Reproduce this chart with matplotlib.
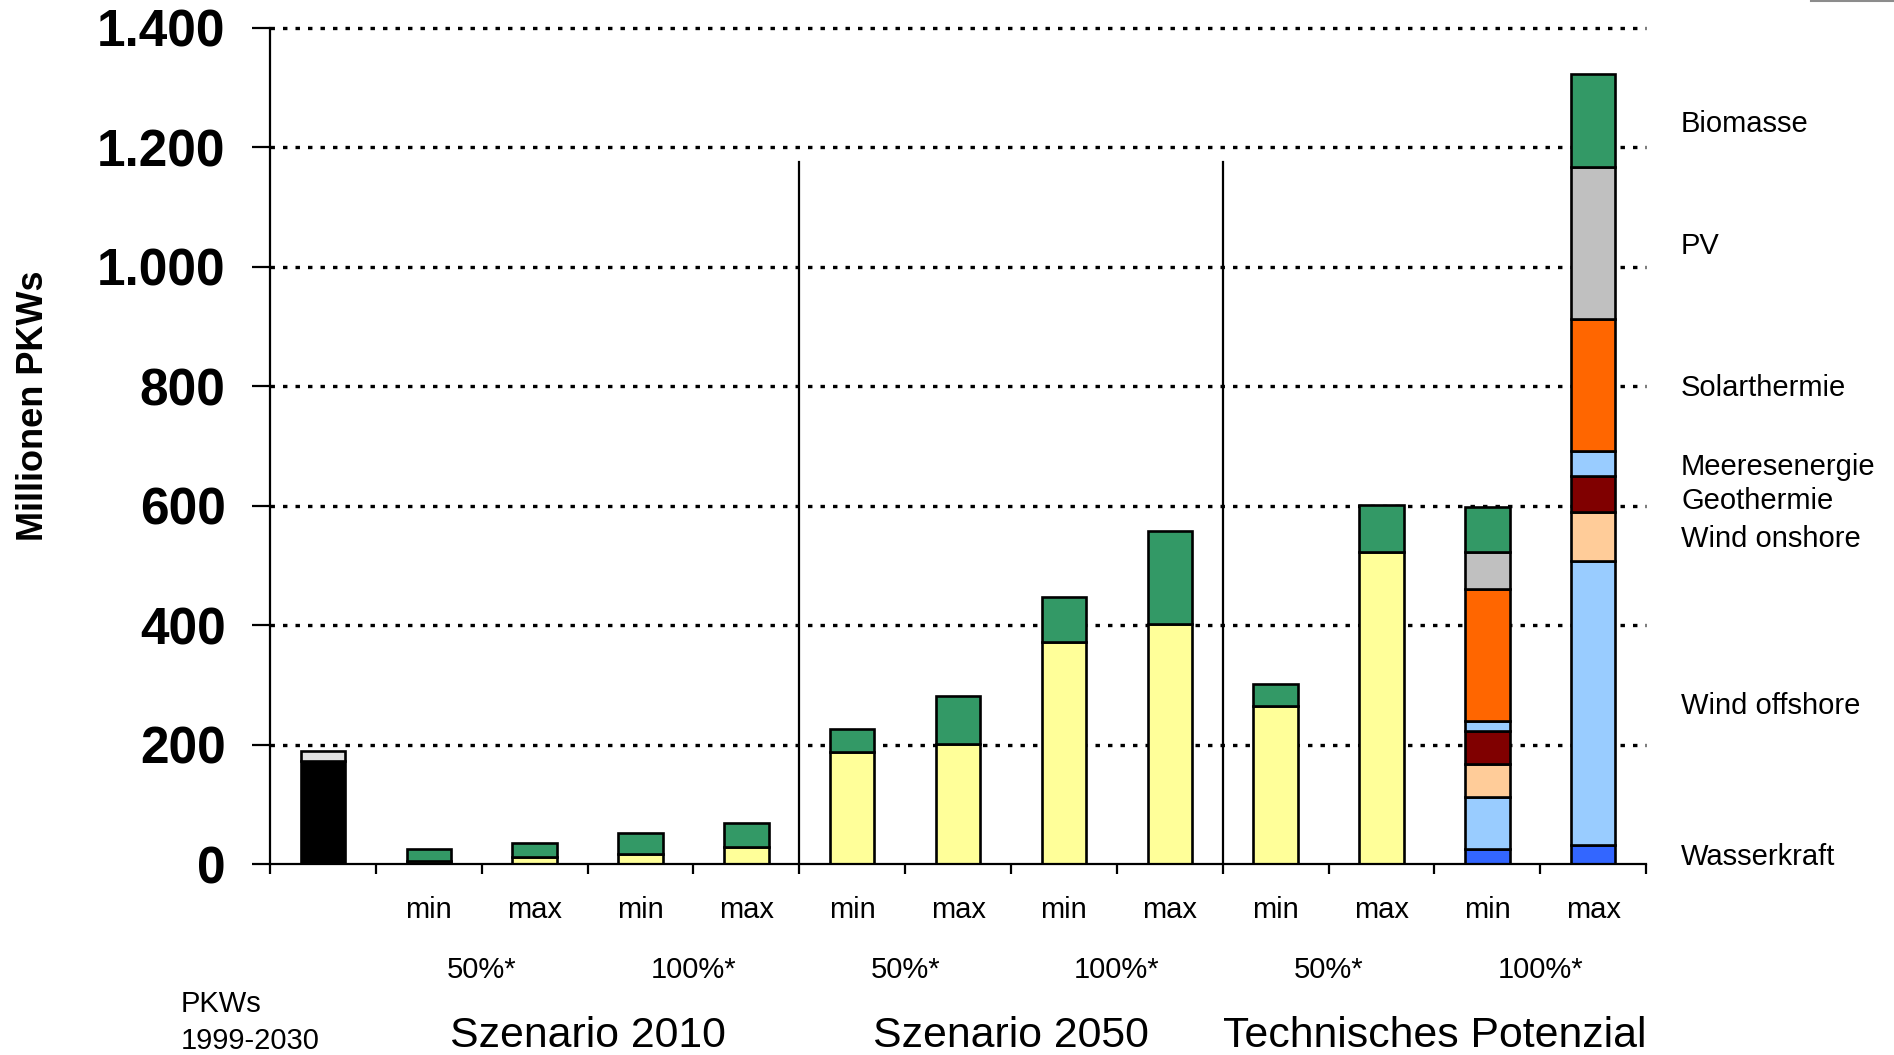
import numpy as np
import matplotlib
matplotlib.use("Agg")
import matplotlib.pyplot as plt
from matplotlib.lines import Line2D
from matplotlib.ticker import FuncFormatter

plt.rcParams["font.family"] = ["Liberation Sans", "DejaVu Sans"]
plt.rcParams["lines.scale_dashes"] = False

# ---- data (million cars) ----
bar_labels = ["", "min", "max", "min", "max", "min", "max", "min", "max",
              "min", "max", "min", "max"]
share_labels = ["50%*", "100%*", "50%*", "100%*", "50%*", "100%*"]
group_labels = ["Szenario 2010", "Szenario 2050", "Technisches Potenzial"]

pkw_1999 = [172, 0, 0, 0, 0, 0, 0, 0, 0, 0, 0, 0, 0]
pkw_2030 = [18, 0, 0, 0, 0, 0, 0, 0, 0, 0, 0, 0, 0]
strom_mix = [0, 5, 12, 16, 28, 187, 201, 372, 402, 264, 523, 0, 0]
wasserkraft = [0, 0, 0, 0, 0, 0, 0, 0, 0, 0, 0, 25, 32]
wind_offshore = [0, 0, 0, 0, 0, 0, 0, 0, 0, 0, 0, 88, 476]
wind_onshore = [0, 0, 0, 0, 0, 0, 0, 0, 0, 0, 0, 54, 82]
geothermie = [0, 0, 0, 0, 0, 0, 0, 0, 0, 0, 0, 56, 60]
meeresenergie = [0, 0, 0, 0, 0, 0, 0, 0, 0, 0, 0, 16, 41]
solarthermie = [0, 0, 0, 0, 0, 0, 0, 0, 0, 0, 0, 221, 221]
pv = [0, 0, 0, 0, 0, 0, 0, 0, 0, 0, 0, 62, 255]
biomasse = [0, 20, 24, 36, 41, 39, 80, 75, 156, 38, 79, 76, 156]

# stacking order bottom -> top, with colours and (optional) side label
layers = [
    (pkw_1999, "#000000", None),
    (pkw_2030, "#E0E0E0", None),
    (strom_mix, "#FFFF99", None),
    (wasserkraft, "#3366FF", "Wasserkraft"),
    (wind_offshore, "#99CCFF", "Wind offshore"),
    (wind_onshore, "#FFCC99", "Wind onshore"),
    (geothermie, "#800000", "Geothermie"),
    (meeresenergie, "#99CCFF", "Meeresenergie"),
    (solarthermie, "#FF6600", "Solarthermie"),
    (pv, "#C0C0C0", "PV"),
    (biomasse, "#339966", "Biomasse"),
]

fig = plt.figure(figsize=(18.94, 10.55), dpi=100)
ax = fig.add_axes([0.1426, 0.181, 0.7265, 0.7925])

x = np.arange(len(bar_labels))
bottom = np.zeros(len(x))
label_bar = len(x) - 1
side_labels = []
for values, color, name in layers:
    v = np.asarray(values, dtype=float)
    m = v > 0
    ax.bar(x[m], v[m], bottom=bottom[m], width=0.42, color=color,
           edgecolor="black", linewidth=1.9, zorder=3)
    if name is not None:
        side_labels.append([name, bottom[label_bar] + v[label_bar] / 2])
    bottom += v

# keep the side labels from crowding each other (top -> bottom)
side_labels.sort(key=lambda s: -s[1])
for k in range(1, len(side_labels)):
    side_labels[k][1] = min(side_labels[k][1], side_labels[k - 1][1] - 58)

ax.set_xlim(-0.5, len(x) - 0.5)
ax.set_ylim(0, 1400)

# dotted horizontal grid
for yv in range(200, 1401, 200):
    ax.plot([-0.5, len(x) - 0.5], [yv, yv], color="black", lw=2.4,
            linestyle=(0, (3.2, 5.8)), zorder=1, clip_on=False)

# separators between scenario groups
for xs in (4.5, 8.5):
    ax.plot([xs, xs], [0, 1175], color="black", lw=1.6, zorder=2)

for side in ("top", "right"):
    ax.spines[side].set_visible(False)
for side in ("left", "bottom"):
    ax.spines[side].set_linewidth(1.6)
    ax.spines[side].set_zorder(4)

ax.set_yticks(np.arange(0, 1401, 200))
ax.yaxis.set_major_formatter(FuncFormatter(lambda v, p: f"{v:,.0f}".replace(",", ".")))
ax.tick_params(axis="y", length=13, width=1.6, pad=19, labelsize=37)
for t in ax.get_yticklabels():
    t.set_fontweight("bold")

ax.set_xticks(np.arange(-0.5, len(x), 1.0))
ax.set_xticklabels([])
ax.tick_params(axis="x", length=7, width=1.6)

xt = ax.get_xaxis_transform()
for xi, lab in zip(x, bar_labels):
    if lab:
        ax.text(xi, -0.055, lab, transform=xt, ha="center", va="center",
                fontsize=21)
for k, lab in enumerate(share_labels):
    ax.text(1.5 + 2 * k, -0.127, lab, transform=xt, ha="center",
            va="center", fontsize=21)
for k, lab in enumerate(group_labels):
    ax.text(2.5 + 4 * k, -0.206, lab, transform=xt, ha="center",
            va="center", fontsize=30.8)

fig.text(0.0956, 1 - 1004 / 1055, "PKWs", ha="left", va="center", fontsize=21)
fig.text(0.0956, 1 - 1041 / 1055, "1999-2030", ha="left", va="center",
         fontsize=21)

for name, yv in side_labels:
    ax.text(12.83, yv - 5, name, ha="left", va="center", fontsize=21,
            clip_on=False)

fig.text(34 / 1894, 1 - 406 / 1055, "Millionen PKWs", rotation=90,
         ha="center", va="center", fontsize=26, fontweight="bold")

fig.add_artist(Line2D([0.956, 1.0], [0.999, 0.999], transform=fig.transFigure,
                      color="#8C8C8C", lw=1.5))

fig.savefig("out.png", dpi=100)
